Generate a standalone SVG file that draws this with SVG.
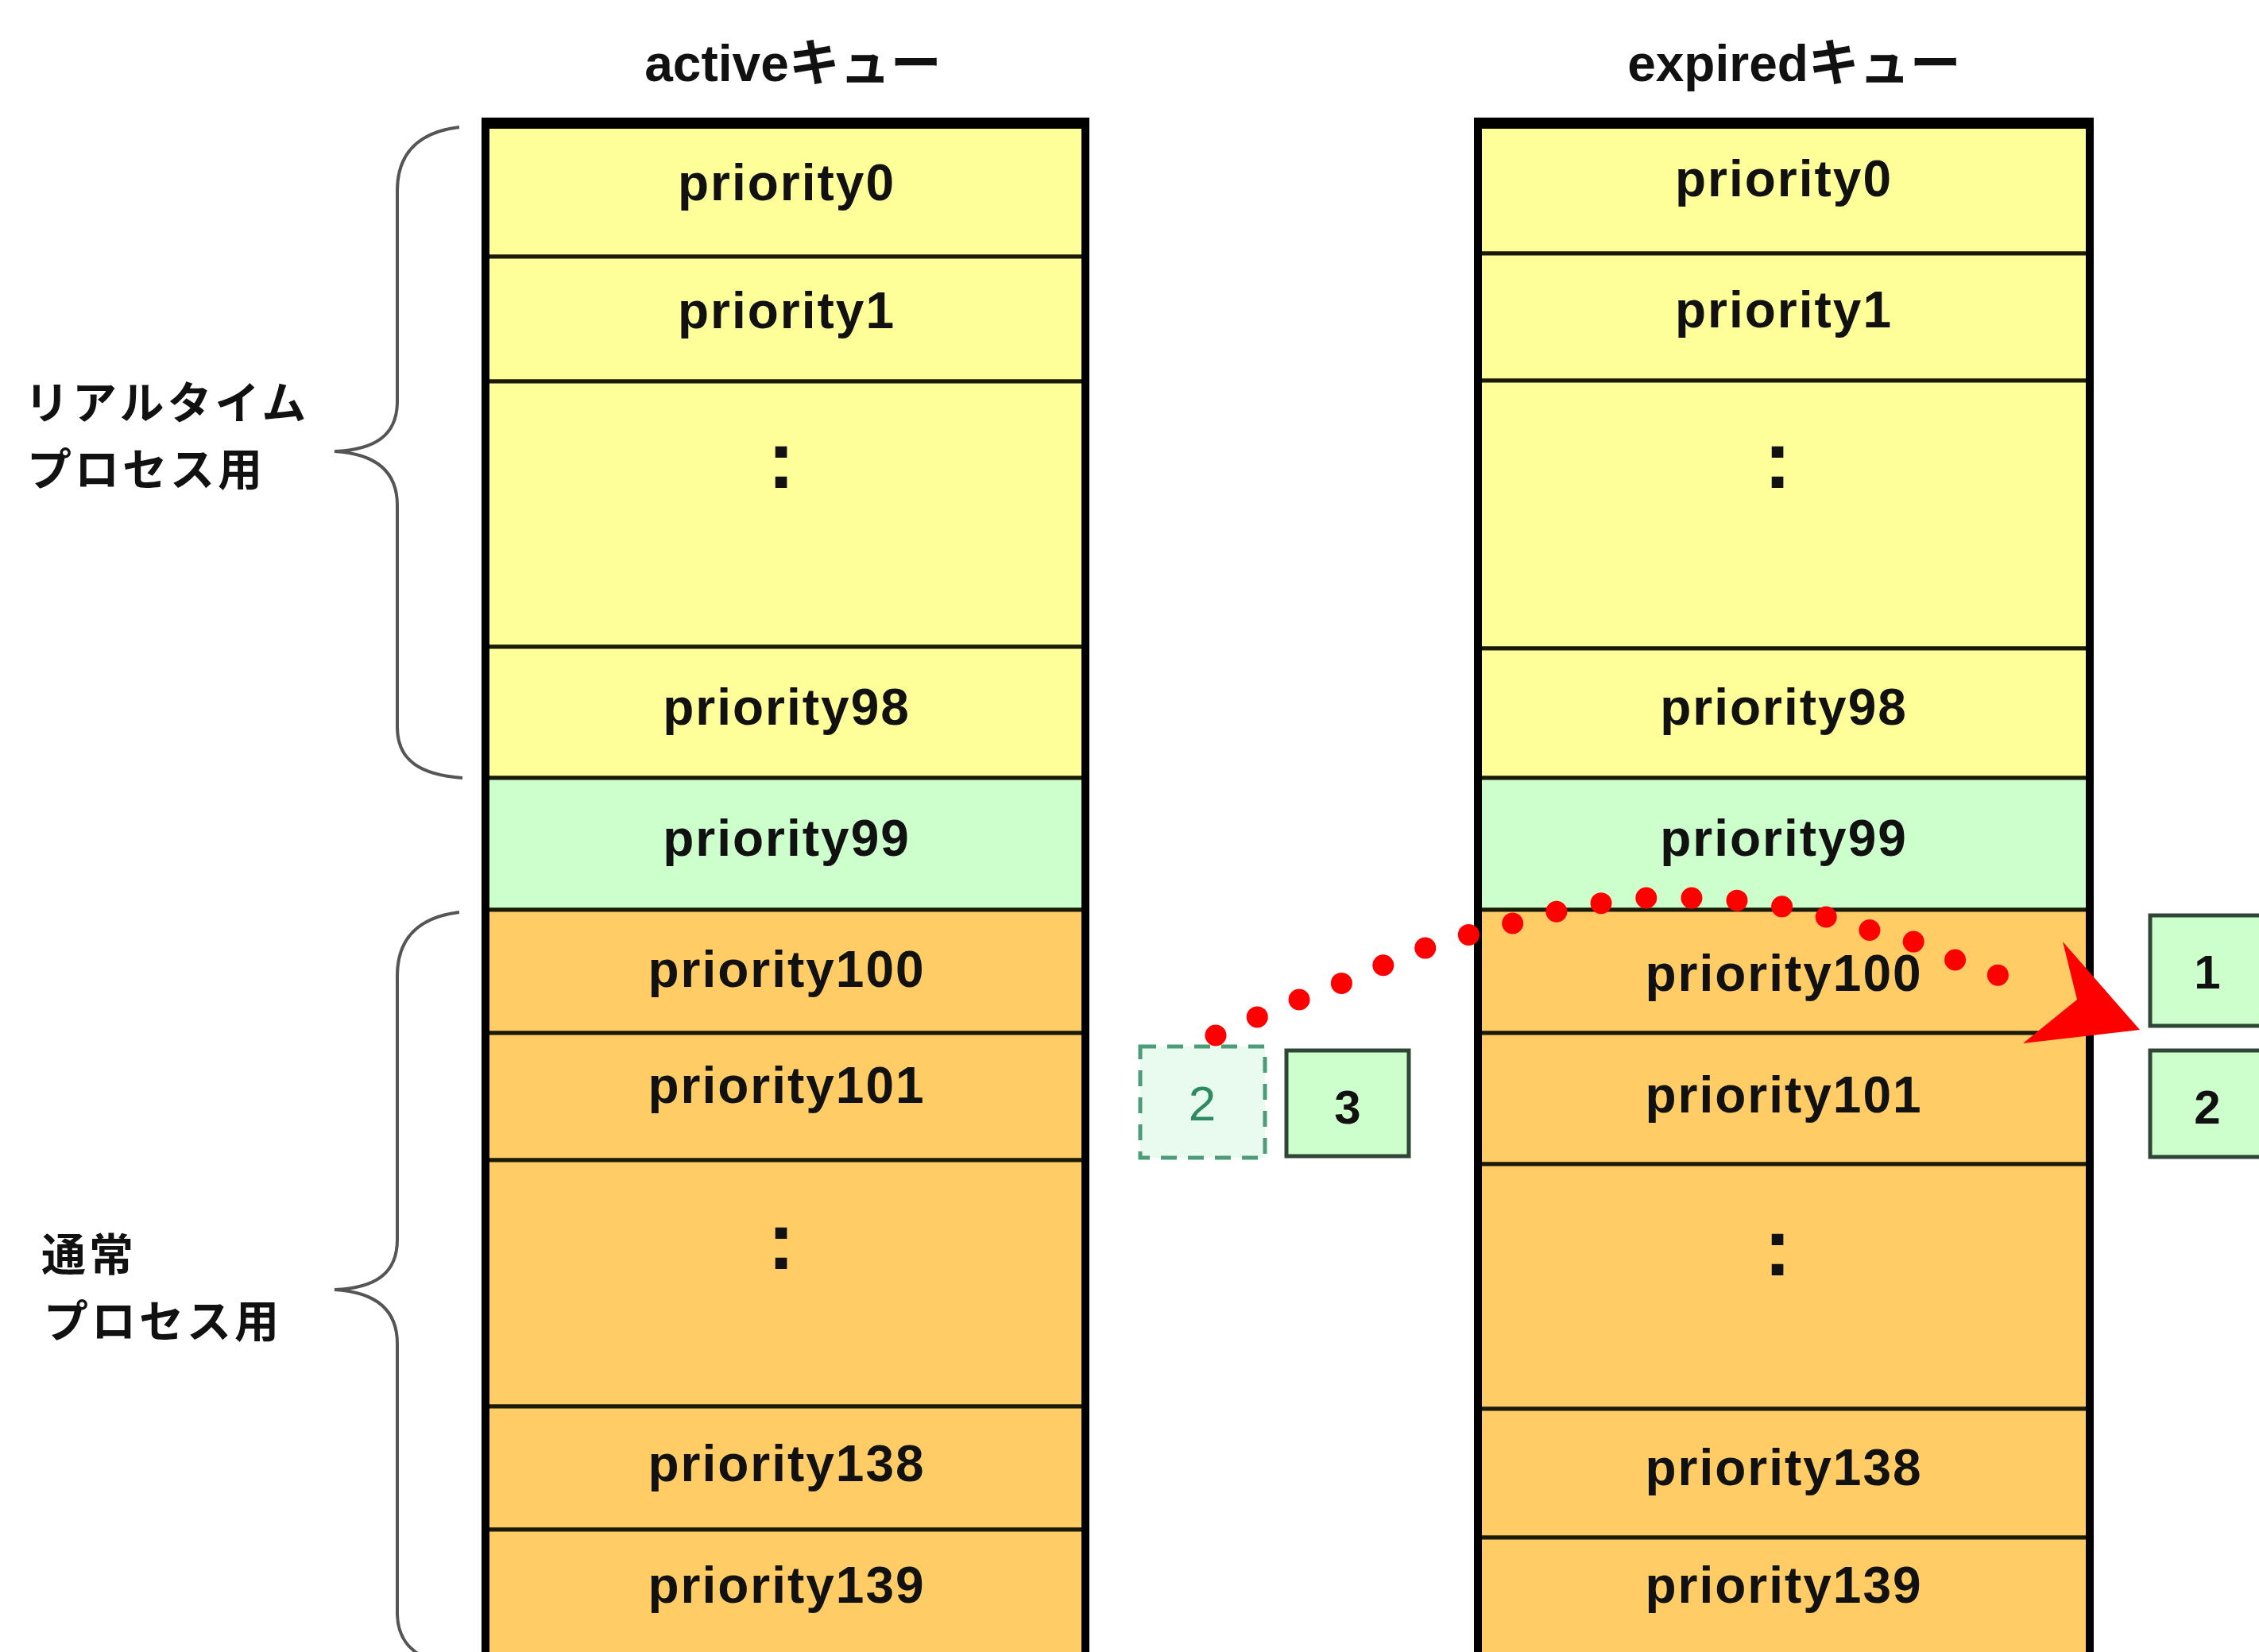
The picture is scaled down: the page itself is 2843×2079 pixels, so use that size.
<svg xmlns="http://www.w3.org/2000/svg" width="2843" height="2079" viewBox="0 0 2843 2079">
<style>
.title{font-family:"Liberation Sans","Noto Sans CJK JP",sans-serif;font-weight:bold;font-size:64px;text-anchor:middle;fill:#111}
.lbl{font-family:"Liberation Sans",sans-serif;font-weight:bold;font-size:64px;letter-spacing:2px;text-anchor:middle;fill:#111}
.colon{font-family:"Liberation Sans",sans-serif;font-weight:bold;font-size:104px;text-anchor:middle;fill:#111}
.side{font-family:"Noto Sans CJK JP",sans-serif;font-weight:bold;font-size:56px;letter-spacing:4px;fill:#111}
.row{stroke:#1a1a08;stroke-width:5}
.yel{fill:#FFFF99}.grn{fill:#CCFFCC}.org{fill:#FFCC66}
.frame{fill:none;stroke:#000;stroke-width:10}
.brace{fill:none;stroke:#555;stroke-width:4}
.box{fill:#CCFFCC;stroke:#2f4636;stroke-width:5}
.dash{fill:#E8FBEE;stroke:#4C9C7A;stroke-width:5;stroke-dasharray:20 14}
.num{font-family:"Liberation Sans",sans-serif;font-weight:bold;font-size:60px;text-anchor:middle;fill:#111}
.numg{font-family:"Liberation Sans",sans-serif;font-size:62px;text-anchor:middle;fill:#2f8a62}
</style>
<rect x="0" y="0" width="2843" height="2079" fill="#fff"/>

<text class="title" x="998" y="102">activeキュー</text>
<text class="title" x="2258" y="102">expiredキュー</text>

<g id="active-queue">
  <g id="active-p0"><rect class="row yel" x="611" y="155" width="755" height="168"/><text class="lbl" x="990" y="252">priority0</text></g>
  <g id="active-p1"><rect class="row yel" x="611" y="323" width="755" height="157"/><text class="lbl" x="990" y="413">priority1</text></g>
  <g id="active-rt-more"><rect class="row yel" x="611" y="480" width="755" height="334"/><text class="colon" x="983" y="614">:</text></g>
  <g id="active-p98"><rect class="row yel" x="611" y="814" width="755" height="165"/><text class="lbl" x="990" y="912">priority98</text></g>
  <g id="active-p99"><rect class="row grn" x="611" y="979" width="755" height="166"/><text class="lbl" x="990" y="1077">priority99</text></g>
  <g id="active-p100"><rect class="row org" x="611" y="1145" width="755" height="155"/><text class="lbl" x="990" y="1242">priority100</text></g>
  <g id="active-p101"><rect class="row org" x="611" y="1300" width="755" height="160"/><text class="lbl" x="990" y="1388">priority101</text></g>
  <g id="active-n-more"><rect class="row org" x="611" y="1460" width="755" height="310"/><text class="colon" x="983" y="1597">:</text></g>
  <g id="active-p138"><rect class="row org" x="611" y="1770" width="755" height="155"/><text class="lbl" x="990" y="1864">priority138</text></g>
  <g id="active-p139"><rect class="row org" x="611" y="1925" width="755" height="200"/><text class="lbl" x="990" y="2017">priority139</text></g>
  <path class="frame" d="M611,2100 V155 H1366 V2100"/>
  <line x1="606" y1="155" x2="1371" y2="155" stroke="#000" stroke-width="14"/>
</g>

<g id="expired-queue">
  <g id="expired-p0"><rect class="row yel" x="1860" y="155" width="770" height="164"/><text class="lbl" x="2245" y="247">priority0</text></g>
  <g id="expired-p1"><rect class="row yel" x="1860" y="319" width="770" height="160"/><text class="lbl" x="2245" y="412">priority1</text></g>
  <g id="expired-rt-more"><rect class="row yel" x="1860" y="479" width="770" height="337"/><text class="colon" x="2237" y="614">:</text></g>
  <g id="expired-p98"><rect class="row yel" x="1860" y="816" width="770" height="163"/><text class="lbl" x="2245" y="912">priority98</text></g>
  <g id="expired-p99"><rect class="row grn" x="1860" y="979" width="770" height="166"/><text class="lbl" x="2245" y="1077">priority99</text></g>
  <g id="expired-p100"><rect class="row org" x="1860" y="1145" width="770" height="155"/><text class="lbl" x="2245" y="1247">priority100</text></g>
  <g id="expired-p101"><rect class="row org" x="1860" y="1300" width="770" height="165"/><text class="lbl" x="2245" y="1400">priority101</text></g>
  <g id="expired-n-more"><rect class="row org" x="1860" y="1465" width="770" height="308"/><text class="colon" x="2237" y="1605">:</text></g>
  <g id="expired-p138"><rect class="row org" x="1860" y="1773" width="770" height="162"/><text class="lbl" x="2245" y="1869">priority138</text></g>
  <g id="expired-p139"><rect class="row org" x="1860" y="1935" width="770" height="200"/><text class="lbl" x="2245" y="2017">priority139</text></g>
  <path class="frame" d="M1860,2100 V155 H2630 V2100"/>
  <line x1="1855" y1="155" x2="2635" y2="155" stroke="#000" stroke-width="14"/>
</g>

<g id="realtime-label">
  <path class="brace" d="M578,160 C528,166 500,192 500,240 L500,505 C500,548 472,566 421,568 C472,571 500,592 500,636 L500,915 C500,958 530,975 582,979"/>
  <text class="side" x="31" y="527">リアルタイム</text>
  <text class="side" x="34" y="611">プロセス用</text>
</g>

<g id="normal-label">
  <path class="brace" d="M578,1148 C528,1154 500,1180 500,1228 L500,1560 C500,1603 472,1621 421,1623 C472,1626 500,1647 500,1691 L500,2030 C500,2073 530,2092 582,2098"/>
  <text class="side" x="52" y="1599">通常</text>
  <text class="side" x="55" y="1683">プロセス用</text>
</g>

<g id="task-2-old"><rect class="dash" x="1435" y="1317" width="157" height="140"/><text class="numg" x="1513" y="1410">2</text></g>
<g id="task-3"><rect class="box" x="1619" y="1322" width="154" height="133"/><text class="num" x="1696" y="1414">3</text></g>
<g id="task-1"><rect class="box" x="2706" y="1152" width="150" height="139"/><text class="num" x="2778" y="1244">1</text></g>
<g id="task-2"><rect class="box" x="2706" y="1322" width="150" height="134"/><text class="num" x="2778" y="1414">2</text></g>

<g id="connectors">
  <path d="M1530,1303 L1582,1280 L1635,1258 L1687,1238 L1740,1215 L1794,1193 L1846,1177 L1900,1163 L1955,1148 L2012,1137 L2072,1130 L2127,1130 L2185,1133 L2239,1140 L2295,1153 L2351,1170 L2408,1185 L2458,1207 L2514,1227 L2567,1247" fill="none" stroke="#FF0000" stroke-width="27" stroke-linecap="round" stroke-dasharray="0 57.15"/>
  <polygon points="2596,1185 2693,1296 2546,1313 2614,1258" fill="#FF0000"/>
</g>
</svg>
